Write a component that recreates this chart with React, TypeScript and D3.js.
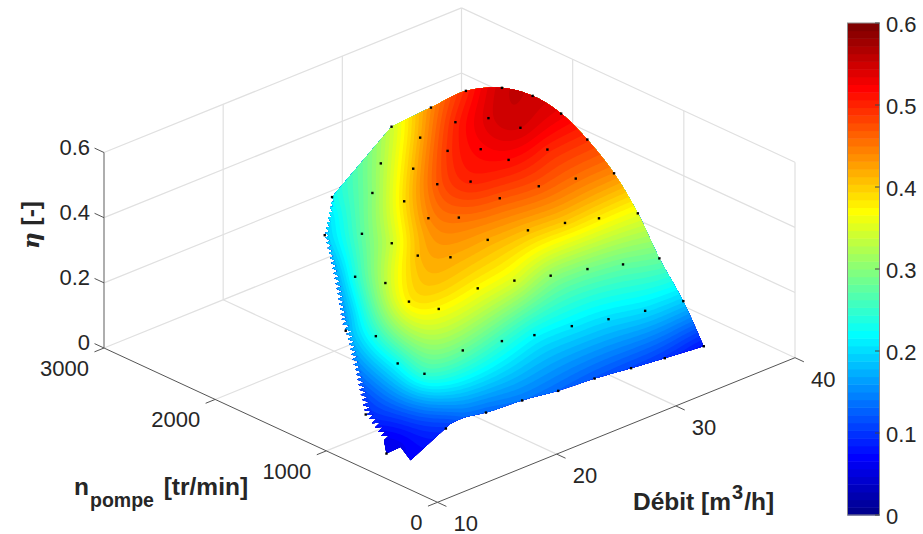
import React, { useMemo } from "react";
import * as d3 from "d3";

// measured points, one block per pump curve (roughly constant debit)
const debit = [
  34.5, 34.48, 34.71, 35.58, 35.87, 36.36, 36.44, 36.25, 35.65, 35.32, 34.03, 33.57,
  30.97, 31.52, 32.5, 32.73, 33.17, 33.29, 32.77, 32.43, 31.82, 31.27, 30.17,
  28.18, 29.07, 30.14, 30.13, 30.3, 30.08, 29.71, 29.01, 28.27, 27.56, 27.72,
  25.22, 26.44, 27.38, 27.44, 27.39, 26.75, 25.95, 25.34, 23.93, 24.81,
  22.09, 23.58, 23.86, 24.4, 24.16, 23.21, 22.3, 20.57,
  19.23, 20.6, 20.84, 21.05, 20.06, 18.48, 17.13,
  16.75, 17.0, 17.1, 16.16, 15.75, 12.13,
  14.36, 13.97, 14.56, 10.54,
];
const nPompe = [
  231, 413, 653, 940, 1185, 1478, 1722, 1958, 2170, 2459, 2635, 2940,
  203, 439, 743, 984, 1240, 1508, 1695, 1946, 2178, 2436, 2672,
  207, 506, 810, 1011, 1265, 1513, 1724, 1947, 2177, 2468, 2848,
  219, 554, 845, 1056, 1304, 1498, 1712, 1944, 2173, 2602,
  210, 584, 794, 1092, 1326, 1498, 1730, 1874,
  228, 557, 800, 1068, 1256, 1378, 1590,
  288, 523, 750, 917, 1171, 874,
  392, 543, 847, 517,
];
const eta = [
  0.08, 0.19, 0.28, 0.36, 0.44, 0.49, 0.53, 0.55, 0.55, 0.5, 0.44, 0.34,
  0.1, 0.2, 0.28, 0.38, 0.455, 0.5, 0.545, 0.54, 0.5, 0.42, 0.32,
  0.11, 0.2, 0.29, 0.4, 0.47, 0.515, 0.52, 0.49, 0.41, 0.3, 0.225,
  0.12, 0.21, 0.305, 0.41, 0.47, 0.5, 0.47, 0.39, 0.275, 0.19,
  0.13, 0.22, 0.35, 0.42, 0.455, 0.44, 0.34, 0.24,
  0.14, 0.25, 0.37, 0.42, 0.41, 0.33, 0.17,
  0.13, 0.28, 0.37, 0.38, 0.24, 0.1,
  0.1, 0.25, 0.225, 0.06,
];

// limits of the surface where no measured point sits
const edgeDebit = [15.25, 14.89, 10.66, 11.81, 11.71, 12.8, 18.32, 22.15, 26.42, 14.64];
const edgeN = [326, 378, 313, 526, 665, 960, 1749, 2235, 2745, 386];
const edgeEta = [0.13, 0.12, 0.07, 0.06, 0.06, 0.09, 0.15, 0.165, 0.2, 0.11];

const debitTicks = [10, 20, 30, 40];
const nTicks = [0, 1000, 2000, 3000];
const etaTicks = [0, 0.2, 0.4, 0.6];
const barTicks = [0, 0.1, 0.2, 0.3, 0.4, 0.5, 0.6];

const N_COLORS = 64;
const ETA_MAX = 0.6;
const TEXT = "#262626";
const GRID = "#e0e0e0";
const FONT = "'Liberation Sans', Arial, sans-serif";
const SMOOTHING = 0.01;

// axes of the 3d box, as seen on the page
const qx = d3.scaleLinear().domain([10, 40]).range([0, 357.5]);
const qy = d3.scaleLinear().domain([10, 40]).range([0, -144.6]);
const nx = d3.scaleLinear().domain([0, 3000]).range([0, -333.5]);
const ny = d3.scaleLinear().domain([0, 3000]).range([0, -154.3]);
const zy = d3.scaleLinear().domain([0, 0.6]).range([0, -195.5]);
const barY = d3.scaleLinear().domain([0, 0.6]).range([515, 23]);

type Pt = [number, number];

const project = (q: number, n: number, e: number): Pt => [
  437.5 + qx(q) + nx(n),
  502.3 + qy(q) + ny(n) + zy(e),
];

const jet = (i: number) => {
  const t = (i + 1) / N_COLORS;
  const c = (v: number) => Math.round(255 * Math.max(0, Math.min(1, v)));
  const r = c(Math.min(4 * t - 1.5, -4 * t + 4.5));
  const g = c(Math.min(4 * t - 0.5, -4 * t + 3.5));
  const b = c(Math.min(4 * t + 0.5, -4 * t + 2.5));
  return `rgb(${r},${g},${b})`;
};

// thin plate spline through the points, on the page plane
function makeField(xs: number[], ys: number[], vs: number[]) {
  const m = xs.length;
  const size = m + 3;
  const u = (r2: number) => (r2 > 0 ? 0.5 * r2 * Math.log(r2) : 0);
  const A: number[][] = [];
  for (let i = 0; i < size; i++) A.push(new Array(size + 1).fill(0));
  for (let i = 0; i < m; i++) {
    for (let j = 0; j < m; j++) {
      A[i][j] = u((xs[i] - xs[j]) ** 2 + (ys[i] - ys[j]) ** 2);
    }
    A[i][i] = SMOOTHING;
    A[i][m] = A[m][i] = 1;
    A[i][m + 1] = A[m + 1][i] = xs[i];
    A[i][m + 2] = A[m + 2][i] = ys[i];
    A[i][size] = vs[i];
  }
  for (let c = 0; c < size; c++) {
    let p = c;
    for (let r = c + 1; r < size; r++) if (Math.abs(A[r][c]) > Math.abs(A[p][c])) p = r;
    [A[c], A[p]] = [A[p], A[c]];
    for (let r = c + 1; r < size; r++) {
      const f = A[r][c] / A[c][c];
      if (f === 0) continue;
      for (let k = c; k <= size; k++) A[r][k] -= f * A[c][k];
    }
  }
  const w = new Array(size).fill(0);
  for (let r = size - 1; r >= 0; r--) {
    let s = A[r][size];
    for (let k = r + 1; k < size; k++) s -= A[r][k] * w[k];
    w[r] = s / A[r][r];
  }
  return (x: number, y: number) => {
    let s = w[m] + w[m + 1] * x + w[m + 2] * y;
    for (let i = 0; i < m; i++) s += w[i] * u((x - xs[i]) ** 2 + (y - ys[i]) ** 2);
    return s;
  };
}

// left border of the surface: the griddata cut leaves teeth along it
function teeth(line: Pt[], period: number, depth: (f: number) => number) {
  const lens = d3.pairs(line).map(([a, b]) => Math.hypot(b[0] - a[0], b[1] - a[1]));
  const total = d3.sum(lens);
  const at = (s: number): { p: Pt; nrm: Pt } => {
    let i = 0;
    let left = s;
    while (i < lens.length - 1 && left > lens[i]) {
      left -= lens[i];
      i++;
    }
    const a = line[i];
    const b = line[i + 1];
    const dx = (b[0] - a[0]) / lens[i];
    const dy = (b[1] - a[1]) / lens[i];
    return { p: [a[0] + dx * left, a[1] + dy * left], nrm: [-dy, dx] };
  };
  const out: Pt[] = [];
  for (let s = 0; s < total; s += period) {
    const tip = at(s);
    const notch = at(Math.min(s + period * 0.2, total));
    const d = depth(s / total);
    out.push(tip.p);
    out.push([notch.p[0] + notch.nrm[0] * d, notch.p[1] + notch.nrm[1] * d]);
  }
  return out;
}

const App = () => {
  const surface = useMemo(() => {
    const dots = debit.map((q, i) => project(q, nPompe[i], eta[i]));
    const edge = edgeDebit.map((q, i) => project(q, edgeN[i], edgeEta[i]));

    // outline of the surface, clockwise from the left top corner
    const upper = [11, 10, 9, 8, 7, 6, 5, 4, 3, 2, 1, 0].map((i) => dots[i]);
    const lower = [0, 12, 23, 34, 44, 52, 59].map((i) => dots[i]).concat([edge[0], edge[9]]);
    const leftSide: Pt[] = [edge[4], dots[64], edge[5], dots[58], edge[6], edge[7], dots[43], edge[8], dots[33]];
    const smooth = d3.line<Pt>().curve(d3.curveCatmullRom);
    const toothed = teeth(leftSide, 5.2, d3.scaleLinear().domain([0, 0.6, 1]).range([7, 6, 3]));
    const rest: Pt[] = [edge[2], edge[3], dots[68], ...toothed, dots[33]];
    const outline =
      `M${dots[33].join(",")}` +
      (smooth(upper) as string).replace(/^M/, "L") +
      (smooth(lower) as string).replace(/^M/, "L") +
      rest.map((p) => `L${p.join(",")}`).join("") +
      "Z";

    // color bands, on a grid over the page
    const step = 2;
    const x0 = 310;
    const y0 = 75;
    const w = 205;
    const h = 200;
    const all = dots.concat(edge);
    const field = makeField(
      all.map((p) => p[0] / 100),
      all.map((p) => p[1] / 100),
      eta.concat(edgeEta),
    );
    const values = new Array(w * h);
    for (let j = 0; j < h; j++) {
      for (let i = 0; i < w; i++) {
        values[j * w + i] = Math.max(0.0001, field((x0 + i * step) / 100, (y0 + j * step) / 100));
      }
    }
    const levels = d3.range(N_COLORS).map((i) => (i * ETA_MAX) / N_COLORS);
    const bands = d3.contours().size([w, h]).thresholds(levels)(values);
    const path = d3.geoPath(d3.geoIdentity().scale(step).translate([x0 - step / 2, y0 - step / 2]) as any);
    return { dots, outline, bands: bands.map((b, i) => ({ d: path(b) as string, color: jet(i) })) };
  }, []);

  const wall = (a: Pt, b: Pt, key: string) => (
    <line key={key} x1={a[0]} y1={a[1]} x2={b[0]} y2={b[1]} stroke={GRID} strokeWidth={1.2} />
  );
  const axisLine = (a: Pt, b: Pt, key: string, color = "#555", width = 1) => (
    <line key={key} x1={a[0]} y1={a[1]} x2={b[0]} y2={b[1]} stroke={color} strokeWidth={width} />
  );
  const tickText = (x: number, y: number, label: string, anchor: string, key: string) => (
    <text key={key} x={x} y={y} dy="0.36em" textAnchor={anchor as any} fontSize={22} fill={TEXT} fontFamily={FONT}>
      {label}
    </text>
  );

  return (
    <svg width={923} height={534} style={{ position: "absolute", left: 0, top: 0 }}>
      <g>
        {debitTicks.slice(1, 3).map((q) => wall(project(q, 0, 0), project(q, 3000, 0), `fq${q}`))}
        {nTicks.slice(1, 3).map((n) => wall(project(10, n, 0), project(40, n, 0), `fn${n}`))}
        {wall(project(40, 0, 0), project(40, 3000, 0), "f40")}
        {wall(project(10, 3000, 0), project(40, 3000, 0), "f3000")}
        {debitTicks.slice(1).map((q) => wall(project(q, 3000, 0), project(q, 3000, 0.6), `vq${q}`))}
        {nTicks.slice(0, 3).map((n) => wall(project(40, n, 0), project(40, n, 0.6), `vn${n}`))}
        {etaTicks.slice(1).map((e) => wall(project(10, 3000, e), project(40, 3000, e), `hq${e}`))}
        {etaTicks.slice(1).map((e) => wall(project(40, 3000, e), project(40, 0, e), `hn${e}`))}
      </g>

      <clipPath id="surface-clip">
        <path d={surface.outline} />
      </clipPath>
      <g clipPath="url(#surface-clip)">
        {surface.bands.map((b, i) => (
          <path key={i} d={b.d} fill={b.color} />
        ))}
      </g>
      <g>
        {surface.dots.map((p, i) => (
          <rect key={i} x={p[0] - 1.2} y={p[1] - 1.2} width={2.4} height={2.4} fill="#000" />
        ))}
      </g>

      <g>
        {axisLine(project(10, 0, 0), project(40, 0, 0), "axq")}
        {axisLine(project(10, 0, 0), project(10, 3000, 0), "axn")}
        {axisLine(project(10, 3000, 0), project(10, 3000, 0.6), "axz", "#8c8c8c", 1.4)}
        {debitTicks.map((q) => axisLine(project(q, 0, 0), project(q, -80, 0), `tq${q}`))}
        {nTicks.map((n) => axisLine(project(10, n, 0), project(9.2, n, 0), `tn${n}`))}
        {etaTicks.map((e) => axisLine(project(10, 3000, e), project(10, 3085, e), `tz${e}`))}
        {debitTicks.map((q) => {
          const p = project(q, 0, 0);
          return tickText(p[0] + 16, p[1] + 21, String(q), "start", `lq${q}`);
        })}
        {nTicks.map((n) => {
          const p = project(10, n, 0);
          return tickText(p[0] - 15, p[1] + 20, String(n), "end", `ln${n}`);
        })}
        {etaTicks.map((e) => {
          const p = project(10, 3000, e);
          return tickText(p[0] - 14, p[1] - 5.5, String(e), "end", `lz${e}`);
        })}
      </g>

      <text x={633} y={510} fontSize={24.5} fontWeight="bold" fill={TEXT} fontFamily={FONT}>
        Débit [m
        <tspan dy={-11} dx={1} fontSize={20}>3</tspan>
        <tspan dy={11} dx={1}>/h]</tspan>
      </text>
      <text x={74} y={495} fontSize={24.5} fontWeight="bold" fill={TEXT} fontFamily={FONT}>
        n
        <tspan dy={12} dx={1} fontSize={19.5}>pompe</tspan>
        <tspan dy={-12} dx={3}> [tr/min]</tspan>
      </text>
      <text transform="translate(39,249) rotate(-90)" fontSize={24.5} fontWeight="bold" fill={TEXT} fontFamily={FONT}>
        <tspan fontFamily="'DejaVu Serif', serif" fontStyle="italic" fontWeight="bold" fontSize={23}>η</tspan>
        <tspan> [-]</tspan>
      </text>

      <g>
        {d3.range(N_COLORS).map((i) => {
          const step = ETA_MAX / N_COLORS;
          return (
            <rect
              key={i}
              x={847.5}
              y={barY((i + 1) * step)}
              width={32}
              height={barY(0) - barY(step) + 0.5}
              fill={jet(i)}
            />
          );
        })}
        <rect x={847.5} y={barY(0.6)} width={32} height={barY(0) - barY(0.6)} fill="none" stroke="#8c8c8c" strokeWidth={1} />
        {barTicks.map((t) => (
          <line key={t} x1={875} x2={879.5} y1={barY(t)} y2={barY(t)} stroke="#444" strokeWidth={1} />
        ))}
        {barTicks.map((t) => tickText(886, barY(t) + 1, String(t), "start", `lb${t}`))}
      </g>
    </svg>
  );
};

export default App;
